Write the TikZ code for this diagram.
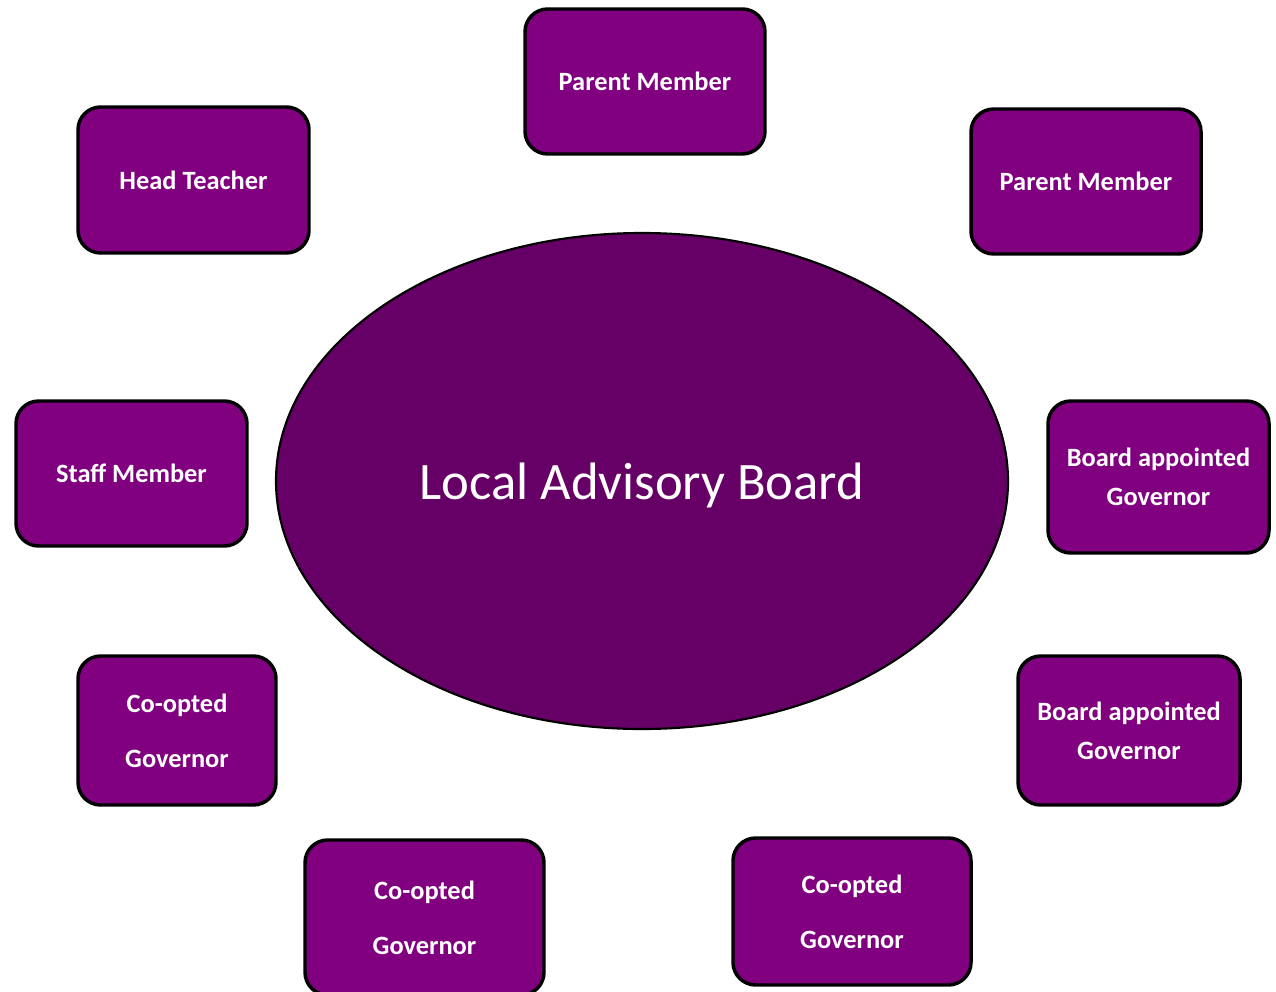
\documentclass[tikz,border=0pt]{standalone}
\usepackage{fontspec}
\setmainfont{Carlito}
\definecolor{boxpurple}{HTML}{800080}
\definecolor{ellpurple}{HTML}{660066}
\usetikzlibrary{shapes.geometric}
\tikzset{
  member/.style={draw=black, line width=2.6pt, fill=boxpurple, rounded corners=17pt,
    text=white, font=\fontsize{19.8}{41}\selectfont\bfseries, align=center,
    inner sep=0pt, anchor=center},
  twoline/.style={font=\fontsize{19.8}{29}\selectfont\bfseries},
  board/.style={draw=black, line width=1.6pt, fill=ellpurple, ellipse, text=white,
    font=\fontsize{39.5}{44}\selectfont, inner sep=0pt, text depth=0pt},
}
\begin{document}
\begin{tikzpicture}[x=0.75pt,y=-0.75pt]
\useasboundingbox (0,0) rectangle (1276,991);
\node[board, minimum width=732*0.75pt, minimum height=496*0.75pt] (lab) at (642,481) {Local Advisory Board};
\node[member, minimum width=240*0.75pt, minimum height=145*0.75pt] (pm1) at (645,81.5) {Parent Member};
\node[member, minimum width=231*0.75pt, minimum height=146*0.75pt] (ht) at (193.5,180) {Head Teacher};
\node[member, minimum width=230*0.75pt, minimum height=145*0.75pt] (pm2) at (1086,181.5) {Parent Member};
\node[member, minimum width=231*0.75pt, minimum height=145*0.75pt] (sm) at (131.5,473.5) {Staff Member};
\node[member, twoline, minimum width=221*0.75pt, minimum height=152*0.75pt] (bag1) at (1158.5,477) {Board appointed\\Governor};
\node[member, twoline, minimum width=222*0.75pt, minimum height=149*0.75pt] (bag2) at (1129,730.5) {Board appointed\\Governor};
\node[member, minimum width=198*0.75pt, minimum height=149*0.75pt] (cg1) at (177,730.5) {Co-opted\\Governor};
\node[member, minimum width=239*0.75pt, minimum height=155*0.75pt] (cg2) at (424.5,917.5) {Co-opted\\Governor};
\node[member, minimum width=238*0.75pt, minimum height=147*0.75pt] (cg3) at (852,911.5) {Co-opted\\Governor};
\end{tikzpicture}
\end{document}
